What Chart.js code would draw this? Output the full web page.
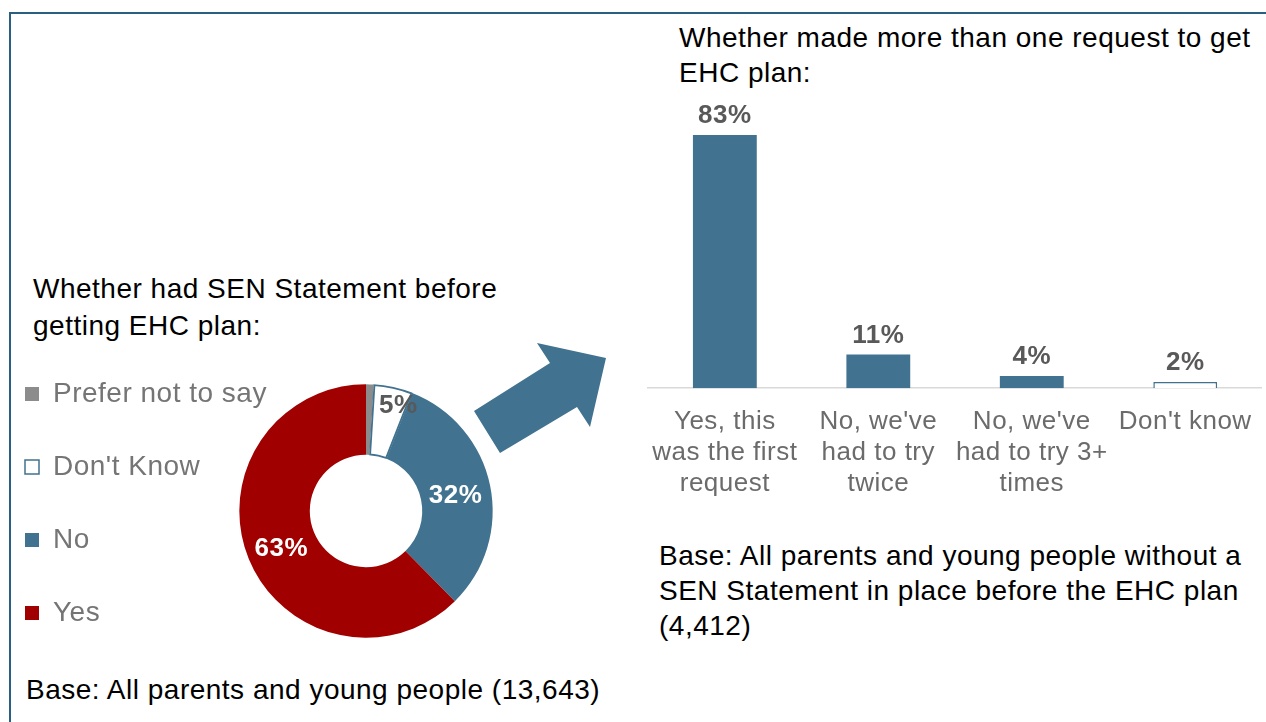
<!DOCTYPE html>
<html>
<head>
<meta charset="utf-8">
<script src="https://cdn.jsdelivr.net/npm/chart.js@4/dist/chart.umd.min.js"></script>
<style>
  html, body { margin: 0; padding: 0; background: #fff; }
  body { width: 1266px; height: 722px; position: relative; overflow: hidden; font-family: 'Liberation Sans', Arial, sans-serif; }
  .frame { position: absolute; left: 9px; top: 12px; width: 1300px; height: 800px; border-top: 2px solid #2b5f82; border-left: 2px solid #2b5f82; }
  .txt { position: absolute; color: #000; font-size: 28px; letter-spacing: 0.5px; white-space: nowrap; }
  canvas { position: absolute; }
  svg { position: absolute; left: 0; top: 0; }
</style>
</head>
<body>
<div class="frame"></div>

<div class="txt" style="left:679px; top:20px; line-height:35px;">Whether made more than one request to get<br>EHC plan:</div>
<div class="txt" style="left:33px; top:270px; line-height:37px;">Whether had SEN Statement before<br>getting EHC plan:</div>
<div class="txt" style="left:659px; top:538px; line-height:35px;">Base: All parents and young people without a<br>SEN Statement in place before the EHC plan<br>(4,412)</div>
<div class="txt" style="left:26px; top:672px; line-height:36px;">Base: All parents and young people (13,643)</div>

<canvas id="donut" width="772" height="352" style="left:-20px; top:335px;"></canvas>
<canvas id="bars" width="633" height="434" style="left:635px; top:83px;"></canvas>

<svg width="1266" height="722">
  <polygon points="474,411 550,363 537,343 606,358 590,427 577,407 500,453" fill="#41728f"/>
</svg>

<script>
const FONT = "'Liberation Sans', Arial, sans-serif";

// Left chart: SEN Statement before EHC plan
const donutLabels = ['Prefer not to say', "Don't Know", 'No', 'Yes'];
const donutValues = [1, 5, 32, 63];
const donutColors = ['#8c8c8c', '#ffffff', '#41728f', '#a00000'];

// Right chart: more than one request
const barLabels = [
  ['Yes, this', 'was the first', 'request'],
  ["No, we've", 'had to try', 'twice'],
  ["No, we've", 'had to try 3+', 'times'],
  ["Don't know"]
];
const barValues = [83, 11, 4, 2];
const barColors = ['#41728f', '#41728f', '#41728f', '#ffffff'];

// wider text like the original
const spacing = {
  id: 'spacing',
  beforeUpdate(chart) { chart.ctx.letterSpacing = '0.5px'; },
  beforeDraw(chart) { chart.ctx.letterSpacing = '0.5px'; }
};

const donutLabelPlugin = {
  id: 'donutLabels',
  afterDatasetsDraw(chart) {
    const ctx = chart.ctx;
    const meta = chart.getDatasetMeta(0);
    ctx.save();
    ctx.font = 'bold 26px ' + FONT;
    ctx.textAlign = 'center';
    ctx.textBaseline = 'middle';
    meta.data.forEach((arc, i) => {
      const v = donutValues[i];
      if (v < 2) return;
      const p = arc.getProps(['x', 'y', 'startAngle', 'endAngle', 'innerRadius', 'outerRadius'], true);
      const mid = (p.startAngle + p.endAngle) / 2;
      const small = v < 10;
      const r = p.innerRadius + (p.outerRadius - p.innerRadius) * (small ? 0.8 : 0.5);
      ctx.fillStyle = donutColors[i] === '#ffffff' ? '#595959' : '#ffffff';
      ctx.fillText(v + '%', p.x + Math.cos(mid) * r + (small ? 8 : 0), p.y + Math.sin(mid) * r + (small ? 5 : 3));
    });
    ctx.restore();
  }
};

const barLabelPlugin = {
  id: 'barLabels',
  afterDatasetsDraw(chart) {
    const ctx = chart.ctx;
    const meta = chart.getDatasetMeta(0);
    ctx.save();
    ctx.font = 'bold 26px ' + FONT;
    ctx.fillStyle = '#595959';
    ctx.textAlign = 'center';
    ctx.textBaseline = 'alphabetic';
    meta.data.forEach((bar, i) => {
      ctx.fillText(barValues[i] + '%', bar.x, bar.y - 12);
    });
    ctx.restore();
  }
};

new Chart(document.getElementById('donut'), {
  type: 'doughnut',
  data: {
    labels: donutLabels,
    datasets: [{
      data: donutValues,
      backgroundColor: donutColors,
      borderColor: ['#8c8c8c', '#41728f', '#41728f', '#a00000'],
      borderWidth: [0, 1.5, 0, 0],
      borderAlign: 'inner'
    }]
  },
  options: {
    responsive: false,
    animation: false,
    radius: 127,
    cutout: '44%',
    layout: { padding: 0 },
    plugins: {
      tooltip: { enabled: false },
      legend: {
        position: 'chartArea',
        align: 'start',
        labels: {
          boxWidth: 14,
          boxHeight: 14,
          padding: 45,
          color: '#757575',
          font: { size: 28, family: FONT }
        }
      }
    }
  },
  plugins: [spacing, donutLabelPlugin]
});

new Chart(document.getElementById('bars'), {
  type: 'bar',
  data: {
    labels: barLabels,
    datasets: [{
      data: barValues,
      backgroundColor: barColors,
      borderColor: '#41728f',
      borderWidth: [0, 0, 0, 1.5],
      categoryPercentage: 1,
      barPercentage: 0.416
    }]
  },
  options: {
    responsive: false,
    animation: false,
    layout: { padding: 0 },
    plugins: {
      legend: { display: false },
      tooltip: { enabled: false }
    },
    scales: {
      x: {
        grid: { display: false, drawTicks: false },
        border: { display: true, color: '#d9d9d9', width: 1.5 },
        ticks: {
          color: '#6b6b6b',
          padding: 18,
          maxRotation: 0,
          autoSkip: false,
          font: { size: 26, family: FONT, lineHeight: 1.19 }
        }
      },
      y: { display: false, min: 0, max: 100 }
    }
  },
  plugins: [spacing, barLabelPlugin]
});
</script>
</body>
</html>
